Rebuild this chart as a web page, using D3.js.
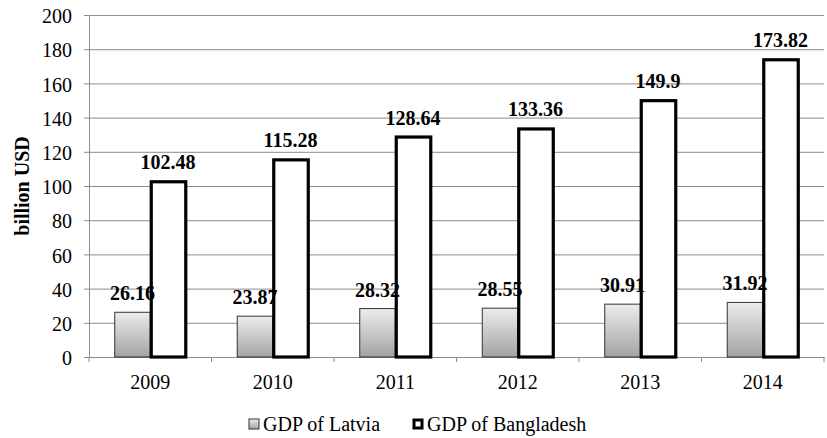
<!DOCTYPE html>
<html>
<head>
<meta charset="utf-8">
<script src="https://cdn.jsdelivr.net/npm/d3@7/dist/d3.min.js"></script>
<style>
  html, body { margin: 0; padding: 0; background: #fff; }
  svg { display: block; }
</style>
</head>
<body>
<svg id="chart" width="827" height="438"></svg>
<script>
// GDP, billion USD
const years = ["2009", "2010", "2011", "2012", "2013", "2014"];
const latvia = [26.16, 23.87, 28.32, 28.55, 30.91, 31.92];
const bangladesh = [102.48, 115.28, 128.64, 133.36, 149.9, 173.82];
const seriesNames = ["GDP of Latvia", "GDP of Bangladesh"];
const yTicks = [0, 20, 40, 60, 80, 100, 120, 140, 160, 180, 200];

const svg = d3.select("#chart");
const plotLeft = 89, plotRight = 824, plotTop = 15, plotBottom = 357;
const serif = "\"Liberation Serif\", \"Times New Roman\", serif";
const fontSize = "20px";
const gridColor = "#8c8c8c";

const x = d3.scaleBand().domain(years).range([plotLeft, plotRight]).paddingInner(0).paddingOuter(0);
const inner = d3.scaleBand().domain(seriesNames).range([0, x.bandwidth()]).paddingInner(0).paddingOuter(0.725);
const y = d3.scaleLinear().domain([0, 200]).range([plotBottom, plotTop]);

const defs = svg.append("defs");
const grad = defs.append("linearGradient").attr("id", "latviaFill")
  .attr("x1", 0).attr("y1", 0).attr("x2", 0).attr("y2", 1);
grad.append("stop").attr("offset", "0%").attr("stop-color", "#ececec");
grad.append("stop").attr("offset", "100%").attr("stop-color", "#a3a3a3");

// gridlines + y axis
const yAxis = d3.axisLeft(y).tickValues(yTicks).tickSize(-(plotRight - plotLeft)).tickSizeOuter(0).tickPadding(17);
const gy = svg.append("g").attr("transform", `translate(${plotLeft},0)`).call(yAxis);
gy.select(".domain").attr("stroke", gridColor);
gy.selectAll(".tick line").attr("stroke", gridColor).attr("x1", -5);
gy.selectAll(".tick text").attr("fill", "#000").attr("dy", "0.38em")
  .style("font-family", serif).style("font-size", fontSize);
gy.selectAll(".tick").filter(d => d === 0).select("line").attr("x2", 0);

// x axis
const xAxis = d3.axisBottom(x).tickSize(0);
const gx = svg.append("g").attr("transform", `translate(0,${plotBottom})`).call(xAxis);
gx.select(".domain").attr("stroke", gridColor);
gx.selectAll(".tick text").attr("fill", "#000").attr("y", 32).attr("dy", null)
  .style("font-family", serif).style("font-size", fontSize);
// category separators
const seps = years.map((d) => x(d)).concat([plotRight]);
gx.selectAll("line.sep").data(seps).enter().append("line").attr("class", "sep")
  .attr("x1", d => d).attr("x2", d => d).attr("y1", 0).attr("y2", 5).attr("stroke", gridColor);

// bars
const groups = svg.append("g").selectAll("g").data(years).enter().append("g")
  .attr("transform", d => `translate(${x(d)},0)`);

groups.append("rect")
  .attr("x", inner(seriesNames[0]))
  .attr("width", inner.bandwidth())
  .attr("y", (d, i) => y(latvia[i]))
  .attr("height", (d, i) => y(0) - y(latvia[i]))
  .attr("fill", "url(#latviaFill)").attr("stroke", "#333").attr("stroke-width", 1);

groups.append("rect")
  .attr("x", inner(seriesNames[1]) + 1)
  .attr("width", inner.bandwidth() - 1)
  .attr("y", (d, i) => y(bangladesh[i]))
  .attr("height", (d, i) => y(0) - y(bangladesh[i]))
  .attr("fill", "#fff").attr("stroke", "#000").attr("stroke-width", 3.2);

// value labels
groups.append("text")
  .attr("x", inner(seriesNames[0]) + inner.bandwidth() / 2)
  .attr("y", (d, i) => y(latvia[i]) - 12)
  .attr("text-anchor", "middle")
  .style("font-family", serif).style("font-size", fontSize).style("font-weight", "bold")
  .text((d, i) => latvia[i]);

groups.append("text")
  .attr("x", inner(seriesNames[1]) + inner.bandwidth() / 2)
  .attr("y", (d, i) => y(bangladesh[i]) - 12.5)
  .attr("text-anchor", "middle")
  .style("font-family", serif).style("font-size", fontSize).style("font-weight", "bold")
  .text((d, i) => bangladesh[i]);

// y axis title
svg.append("text")
  .attr("transform", `translate(29,186) rotate(-90)`)
  .attr("text-anchor", "middle")
  .style("font-family", serif).style("font-size", fontSize).style("font-weight", "bold")
  .text("billion USD");

// legend
const legend = svg.append("g").attr("transform", "translate(249,424)");
const legX = [0, 164];
legend.append("rect").attr("x", legX[0]).attr("y", -5).attr("width", 10).attr("height", 10)
  .attr("fill", "url(#latviaFill)").attr("stroke", "#333").attr("stroke-width", 1);
legend.append("rect").attr("x", legX[1] + 1).attr("y", -4).attr("width", 8).attr("height", 8)
  .attr("fill", "#fff").attr("stroke", "#000").attr("stroke-width", 3);
legend.selectAll("text.lg").data(seriesNames).enter().append("text").attr("class", "lg")
  .attr("x", (d, i) => legX[i] + 14).attr("y", 6.5)
  .style("font-family", serif).style("font-size", fontSize).text(d => d);
</script>
</body>
</html>
